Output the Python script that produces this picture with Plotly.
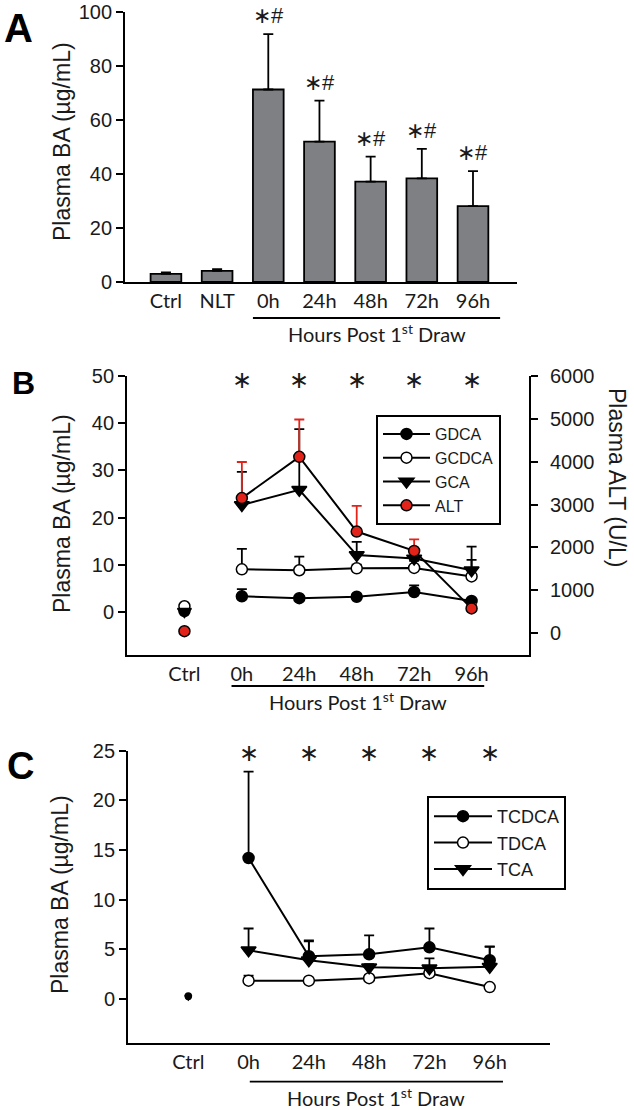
import plotly.graph_objects as go

W, H = 634, 1110

# ---------------- Data ----------------
# Panel A (bars)
a_cats = ["Ctrl", "NLT", "0h", "24h", "48h", "72h", "96h"]
a_mean = [3.0, 4.1, 71.3, 52.0, 37.2, 38.4, 28.1]
a_err = [0.6, 0.7, 20.5, 15.2, 9.2, 10.9, 13.0]
a_sig = ["", "", "∗#", "∗#", "∗#", "∗#", "∗#"]

# Panels B and C share categories
t_cats = ["Ctrl", "0h", "24h", "48h", "72h", "96h"]
t_sig = ["", "∗", "∗", "∗", "∗", "∗"]

# Panel B (glycine conjugates, µg/mL) and ALT (U/L)
gdca = [0.3, 3.4, 3.0, 3.3, 4.3, 2.4]
gdca_err = [0, 1.5, 0.5, 0.5, 1.4, 0.5]
gcdca = [1.3, 9.1, 8.9, 9.3, 9.4, 7.6]
gcdca_err = [0, 4.3, 2.9, 0.8, 1.5, 3.5]
gca = [0.2, 22.7, 25.9, 12.1, 11.4, 8.9]
gca_err = [0, 7.0, 12.8, 2.8, 1.8, 5.0]
alt = [50, 3150, 4110, 2370, 1920, 580]
alt_err = [0, 840, 870, 600, 270, 100]

# Panel C (taurine conjugates, µg/mL)
tcdca = [0.3, 14.2, 4.3, 4.5, 5.2, 3.9]
tcdca_err = [0, 8.7, 1.6, 1.9, 1.9, 1.4]
tdca = [0.2, 1.85, 1.85, 2.1, 2.6, 1.2]
tdca_err = [0, 0.5, 0.2, 0.3, 0.4, 0.2]
tca = [0.2, 4.9, 3.9, 3.2, 3.1, 3.25]
tca_err = [0, 2.2, 1.9, 0.3, 1.0, 2.0]

# ---------------- Helpers ----------------
def px(x):
    return x / W

def py(y):
    return 1 - y / H

SANS = "Arial"
TICKFONT = dict(family=SANS, size=20, color="#1a1a1a")
CATFONT = dict(family="Lato", size=20, color="#1a1a1a")
TITLEFONT = dict(family=SANS, size=23, color="#1a1a1a")

fig = go.Figure()

# ---------------- Panel A ----------------
a_pos = list(range(len(a_cats)))
fig.add_trace(go.Bar(
    x=a_pos, y=a_mean, width=0.6,
    marker=dict(color="#7f8084", line=dict(color="black", width=1.8)),
    error_y=dict(type="data", symmetric=False, array=a_err,
                 arrayminus=[0] * len(a_err), color="black", thickness=1.8, width=5),
    xaxis="x", yaxis="y", showlegend=False,
))

# ---------------- Panels B and C ----------------
t_pos = list(range(1, len(t_cats) + 1))

def series(name, vals, errs, xa, ya, symbol, fill, legend, err_color="black", ctrl_size=11, size=11):
    # control point (not connected to the time course)
    fig.add_trace(go.Scatter(
        x=t_pos[:1], y=vals[:1], mode="markers", xaxis=xa, yaxis=ya,
        marker=dict(symbol=symbol, size=ctrl_size, color=fill, line=dict(color="black", width=1.5)),
        showlegend=False, legendgroup=name + legend,
    ))
    fig.add_trace(go.Scatter(
        x=t_pos[1:], y=vals[1:], mode="lines+markers", name=name, xaxis=xa, yaxis=ya,
        line=dict(color="black", width=2),
        marker=dict(symbol=symbol, size=size, color=fill, line=dict(color="black", width=1.5)),
        error_y=dict(type="data", symmetric=False, array=errs[1:],
                     arrayminus=[0] * (len(errs) - 1), color=err_color, thickness=1.8, width=5),
        legend=legend, legendgroup=name + legend,
    ))

series("GDCA", gdca, gdca_err, "x2", "y2", "circle", "black", "legend")
series("GCDCA", gcdca, gcdca_err, "x2", "y2", "circle", "white", "legend")
series("GCA", gca, gca_err, "x2", "y2", "triangle-down", "black", "legend", size=13, ctrl_size=12)
series("ALT", alt, alt_err, "x2", "y3", "circle", "#e2231a", "legend", err_color="#e2231a")

series("TCDCA", tcdca, tcdca_err, "x3", "y4", "circle", "black", "legend2", ctrl_size=6)
series("TDCA", tdca, tdca_err, "x3", "y4", "circle", "white", "legend2", ctrl_size=5)
series("TCA", tca, tca_err, "x3", "y4", "triangle-down", "black", "legend2", size=13, ctrl_size=6)

# ---------------- Axes ----------------
axline = dict(showline=True, linecolor="black", linewidth=1.8, showgrid=False,
              zeroline=False, automargin=False)
yt = dict(ticks="outside", ticklen=7, tickwidth=1.8, tickcolor="black", tickfont=TICKFONT)
xt = dict(ticks="", ticklen=0, tickfont=CATFONT, ticklabelstandoff=0)

layout = dict(
    template="none",
    width=W, height=H, margin=dict(l=0, r=0, t=0, b=0, autoexpand=False),
    paper_bgcolor="white", plot_bgcolor="white",
    font=dict(family=SANS, color="#1a1a1a"),
    xaxis=dict(domain=[px(125), px(517)], range=[-0.8, 6.86], anchor="y",
               tickvals=a_pos, ticktext=a_cats, **axline, **xt),
    yaxis=dict(domain=[py(282), py(12)], range=[0, 100], anchor="x",
               tickvals=[0, 20, 40, 60, 80, 100], **axline, **yt),
    xaxis2=dict(domain=[px(127), px(529)], range=[0, 7], anchor="y2",
                tickvals=t_pos, ticktext=t_cats, **axline, **xt),
    yaxis2=dict(domain=[py(655), py(375.7)], range=[-9, 50], anchor="x2",
                tickvals=[0, 10, 20, 30, 40, 50], **axline, **yt),
    yaxis3=dict(range=[-505, 6000], overlaying="y2", side="right", anchor="x2",
                tickvals=[0, 1000, 2000, 3000, 4000, 5000, 6000], ticklabelstandoff=8,
                **axline, **yt),
    xaxis3=dict(domain=[px(128), px(550)], range=[0, 7], anchor="y4",
                tickvals=t_pos, ticktext=t_cats, **axline, **xt),
    yaxis4=dict(domain=[py(1042.7), py(750.7)], range=[-4.4, 25], anchor="x3",
                tickvals=[0, 5, 10, 15, 20, 25], **axline, **yt),
    legend=dict(x=px(376), y=py(415), xanchor="left", yanchor="top",
                bordercolor="black", borderwidth=2, bgcolor="white",
                font=dict(family=SANS, size=16, color="#1a1a1a"), tracegroupgap=0,
                itemwidth=47),
    legend2=dict(x=px(427), y=py(796), xanchor="left", yanchor="top",
                 bordercolor="black", borderwidth=2, bgcolor="white",
                 font=dict(family=SANS, size=18, color="#1a1a1a"), tracegroupgap=0,
                 itemwidth=58),
)
fig.update_layout(**layout)

ann = []
shapes = []

def note(x, y, text, font, xref="paper", yref="paper", **kw):
    d = dict(x=x, y=y, xref=xref, yref=yref, text=text, showarrow=False, font=font,
             xanchor="center", yanchor="middle")
    d.update(kw)
    ann.append(d)

# significance marks, panel A
for p, m, e, s in zip(a_pos, a_mean, a_err, a_sig):
    if s:
        note(p, m + e, s, dict(family=SANS, size=22, color="#1a1a1a"), "x", "y",
             yanchor="bottom", yshift=4)
# significance marks, panels B and C
for p, s in zip(t_pos, t_sig):
    if s:
        note(p, 49.3, s, dict(family=SANS, size=24, color="#1a1a1a"), "x2", "y2")
        note(p, 24.8, s, dict(family=SANS, size=24, color="#1a1a1a"), "x3", "y4")

# y axis titles
for (cx, cy) in [(62, 142), (62, 514), (60, 895)]:
    note(px(cx), py(cy), "Plasma BA (µg/mL)", TITLEFONT, textangle=-90)
note(px(617), py(477), "Plasma ALT (U/L)", TITLEFONT, textangle=90)

# "Hours Post 1st Draw" brackets
for xr, x0, x1, ly, ty in [("x", 1.70, 6.53, 318, 333), ("x2", 1.82, 6.22, 686, 701),
                           ("x3", 2.02, 6.22, 1081.7, 1097)]:
    shapes.append(dict(type="line", xref=xr, yref="paper", x0=x0, x1=x1, y0=py(ly), y1=py(ly),
                       line=dict(color="black", width=1.8)))
    note((x0 + x1) / 2, py(ty), "Hours Post 1<sup>st</sup> Draw", CATFONT, xr, "paper")

# panel letters
for t, cx, cy, sz in [("A", 18, 28, 40), ("B", 23, 383, 32), ("C", 20, 766, 38)]:
    note(px(cx), py(cy), "<b>%s</b>" % t, dict(family=SANS, size=sz, color="black"))

fig.update_layout(annotations=ann, shapes=shapes)
fig.write_html("out.html", config={"displayModeBar": False},
               post_script="document.body.style.margin='0px';document.body.style.padding='0px';")
